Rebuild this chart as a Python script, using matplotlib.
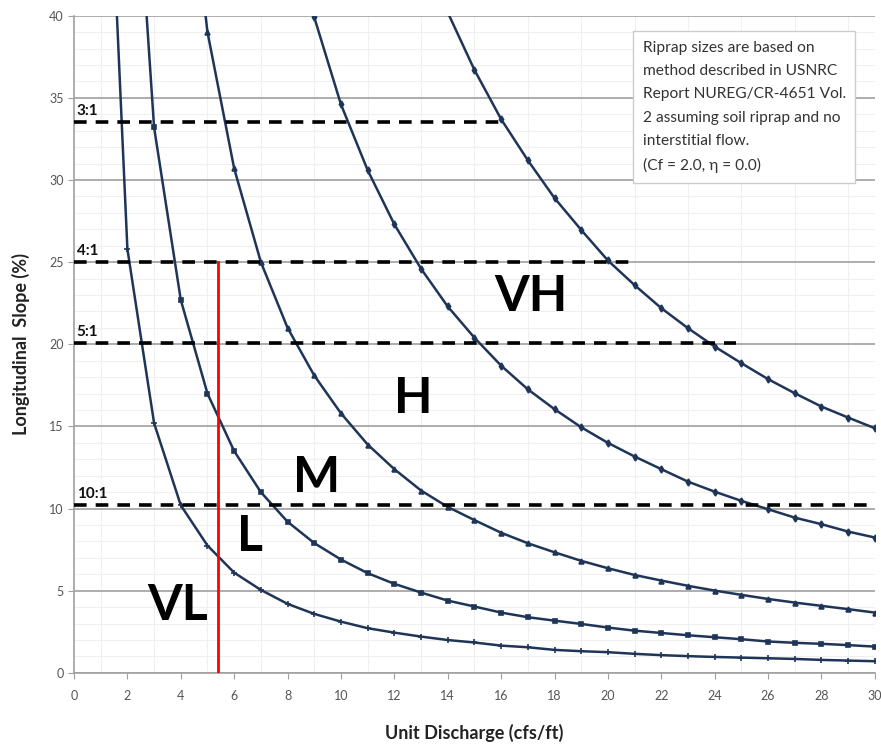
import numpy as np
import matplotlib
matplotlib.use('agg')
from matplotlib import pyplot as plt
from matplotlib.ticker import MultipleLocator

plt.rcParams['font.family'] = ['Lato', 'DejaVu Sans']

# boundary curves (x = unit discharge, y = slope %)
x_vl = list(range(1, 31))
y_vl = [62.0, 25.8, 15.2, 10.2, 7.75, 6.10, 5.05, 4.20, 3.59, 3.12, 2.72, 2.45, 2.21, 2.00, 1.85,
        1.66, 1.56, 1.40, 1.32, 1.26, 1.16, 1.08, 1.02, 0.97, 0.93, 0.89, 0.85, 0.79, 0.75, 0.71]

x_l = list(range(2, 31))
y_l = [57.5, 33.2, 22.7, 17.0, 13.5, 11.0, 9.2, 7.9, 6.9, 6.07, 5.42, 4.89, 4.40, 4.04, 3.67,
       3.39, 3.18, 2.98, 2.76, 2.57, 2.43, 2.29, 2.17, 2.05, 1.91, 1.83, 1.77, 1.69, 1.60]

x_m = list(range(4, 31))
y_m = [53.0, 39.0, 30.7, 25.0, 21.0, 18.1, 15.8, 13.9, 12.4, 11.1, 10.1, 9.3, 8.53, 7.89,
       7.34, 6.82, 6.37, 5.96, 5.62, 5.30, 5.01, 4.75, 4.50, 4.28, 4.08, 3.88, 3.67]

x_h = list(range(8, 31))
y_h = [46.3, 39.9, 34.6, 30.6, 27.3, 24.6, 22.3, 20.4, 18.7, 17.26, 16.05, 14.95, 14.0, 13.17,
       12.4, 11.64, 11.03, 10.47, 9.96, 9.45, 9.05, 8.60, 8.24]

x_vh = list(range(14, 31))
y_vh = [40.2, 36.7, 33.7, 31.2, 28.9, 26.96, 25.1, 23.6, 22.2, 20.98, 19.86, 18.85, 17.88,
        17.02, 16.21, 15.54, 14.89]

# side slope lines
slope_names = ['3:1', '4:1', '5:1', '10:1']
slope_y = [33.55, 25.0, 20.1, 10.2]
slope_end = [16.0, 21.0, 24.8, 30.0]

design_q = 5.4
design_top = 25.0

zones = ['VL', 'L', 'M', 'H', 'VH']
zone_x = [3.9, 6.6, 9.1, 12.7, 17.1]
zone_y = [4.1, 8.3, 11.9, 16.7, 22.9]

note = ("Riprap sizes are based on\nmethod described in USNRC\nReport NUREG/CR-4651 Vol.\n"
        "2 assuming soil riprap and no\ninterstitial flow.\n(Cf = 2.0, \u03b7 = 0.0)")

fig = plt.figure(figsize=(8.81, 7.46), dpi=100)
ax = fig.add_axes([0.084, 0.098, 0.909, 0.881])

navy = '#1f3558'
curves = [(x_vl, y_vl, '+', 5), (x_l, y_l, 's', 3.5), (x_m, y_m, '^', 3.5),
          (x_h, y_h, 'd', 3.5), (x_vh, y_vh, 'd', 3.5)]
for xs, ys, mk, ms in curves:
    ax.plot(xs, ys, color=navy, lw=1.8, marker=mk, ms=ms, mew=1.2, zorder=3)

for name, yv, xe in zip(slope_names, slope_y, slope_end):
    ax.plot([0, xe], [yv, yv], color='black', ls=(0, (3.5, 2.5)), lw=2.6, zorder=4)
    ax.text(0.1, yv + 0.25, name, fontsize=11, fontweight='bold', ha='left', va='bottom',
            color='#111111', zorder=5)

ax.plot([design_q, design_q], [0, design_top], color='red', lw=2, zorder=5)

for z, zx, zy in zip(zones, zone_x, zone_y):
    ax.text(zx, zy, z, fontsize=36, fontweight='bold', ha='center', va='center',
            color='black', zorder=6)

ax.text(0.71, 0.962, note, transform=ax.transAxes, fontsize=11.2, color='#333333',
        ha='left', va='top', linespacing=1.85, zorder=7,
        bbox=dict(boxstyle='square,pad=0.6', fc='white', ec='#cccccc', lw=1))

ax.set_xlim(0, 30)
ax.set_ylim(0, 40)
ax.xaxis.set_major_locator(MultipleLocator(2))
ax.yaxis.set_major_locator(MultipleLocator(5))
ax.xaxis.set_minor_locator(MultipleLocator(1))
ax.yaxis.set_minor_locator(MultipleLocator(1))
ax.grid(axis='y', which='major', color='#a0a0a0', lw=1.2, zorder=1)
ax.grid(which='minor', color='#f0f0f0', lw=0.8, zorder=0)
ax.set_axisbelow(True)

for s in ['top', 'right']:
    ax.spines[s].set_visible(False)
for s in ['left', 'bottom']:
    ax.spines[s].set_color('#a0a0a0')
    ax.spines[s].set_linewidth(1.2)
ax.tick_params(which='major', colors='#a0a0a0', labelcolor='#555555', labelsize=9, length=4)
ax.tick_params(which='minor', length=0)
ax.tick_params(axis='x', pad=8)

ax.set_xlabel('Unit Discharge (cfs/ft)', fontsize=13, fontweight='bold', color='#222222',
              labelpad=16)
ax.set_ylabel('Longitudinal  Slope (%)', fontsize=13, fontweight='bold', color='#222222',
              labelpad=14)

fig.savefig('out.png', dpi=100)
